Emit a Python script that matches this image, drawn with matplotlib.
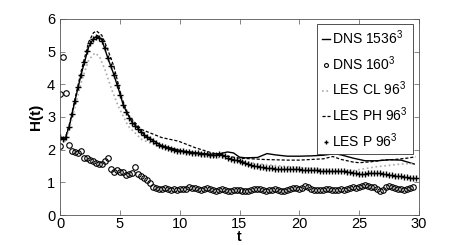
import numpy as np
import matplotlib
matplotlib.use("Agg")
import matplotlib.pyplot as plt

plt.rcParams['font.family'] = ['Liberation Sans', 'DejaVu Sans']
plt.rcParams['mathtext.fontset'] = 'custom'
plt.rcParams['mathtext.rm'] = 'Liberation Sans'
plt.rcParams['mathtext.it'] = 'Liberation Sans:italic'
plt.rcParams['mathtext.bf'] = 'Liberation Sans:bold'

# ---- data ----
labels = ["DNS 1536$^3$", "DNS 160$^3$", "LES CL 96$^3$", "LES PH 96$^3$", "LES P 96$^3$"]

t_dns1536 = [0, 0.4, 0.8, 1.25, 1.8, 2.4, 2.8, 3.15, 3.5, 4.0, 4.45, 4.9, 5.3, 6.0, 7.1, 8.5,
             10.2, 11.5, 12.5, 13.4, 14.0, 14.5, 15.0, 15.5, 16.5, 17.3, 18.0, 19.0, 20.0, 21.0,
             22.0, 23.0, 23.7, 24.5, 25.5, 26.5, 27.5, 28.5, 29.6]
h_dns1536 = [2.4, 2.3, 2.75, 3.5, 4.35, 5.15, 5.4, 5.49, 5.36, 4.8, 4.35, 3.84, 3.35, 2.85, 2.43, 2.12,
             1.96, 1.9, 1.86, 1.88, 1.93, 1.9, 1.77, 1.75, 1.76, 1.88, 1.84, 1.8, 1.8, 1.81,
             1.83, 1.88, 1.82, 1.74, 1.66, 1.66, 1.69, 1.68, 1.56]

t_lesph = [0, 0.4, 0.8, 1.25, 1.8, 2.4, 2.8, 3.06, 3.5, 4.0, 4.5, 5.15, 5.7, 6.8, 8.5, 9.9, 11.3,
           12.7, 14.0, 15.0, 16.0, 17.0, 18.0, 19.0, 20.0, 21.0, 22.0, 22.8, 23.5, 24.5, 25.0,
           26.0, 27.0, 28.0, 29.0, 29.7]
h_lesph = [2.35, 2.3, 2.8, 3.55, 4.45, 5.3, 5.58, 5.63, 5.5, 5.05, 4.55, 3.6, 3.05, 2.62, 2.37, 2.26, 2.06,
           1.9, 1.8, 1.74, 1.72, 1.7, 1.69, 1.68, 1.68, 1.7, 1.72, 1.79, 1.7, 1.62, 1.6,
           1.63, 1.68, 1.7, 1.74, 1.78]

t_lescl = [0, 0.4, 0.8, 1.25, 1.8, 2.4, 2.92, 3.3, 3.76, 4.32, 4.87, 5.7, 6.83, 8.5, 10.17, 12.1,
           13.5, 14.5, 15.5, 16.5, 17.5, 18.5, 19.5, 20.5, 21.5, 22.5, 23.5, 24.5, 25.5, 26.5,
           27.5, 28.5, 29.6]
h_lescl = [2.3, 2.25, 2.65, 3.3, 4.1, 4.75, 4.96, 4.85, 4.45, 3.84, 3.33, 2.72, 2.31, 2.06, 1.91, 1.79,
           1.75, 1.7, 1.62, 1.57, 1.53, 1.5, 1.47, 1.44, 1.4, 1.36, 1.34, 1.36, 1.42, 1.48,
           1.52, 1.56, 1.58]

t_dns160_start = [0.0, 0.0, 0.25, 0.5, 0.75]
h_dns160_start = [2.1, 3.69, 4.83, 3.72, 2.13]
h_dns160 = [1.95, 1.93, 1.91, 1.95, 1.73, 1.75, 1.68, 1.64, 1.60, 1.56, 1.57, 1.65, 1.74,
            1.40, 1.32, 1.38, 1.33, 1.31, 1.22, 1.27, 1.30, 1.48, 1.25, 1.20, 1.13, 1.08,
            0.98, 0.87, 0.84, 0.81, 0.79, 0.84, 0.80, 0.78, 0.79, 0.78, 0.80, 0.79, 0.81,
            0.85, 0.83, 0.82, 0.80, 0.78, 0.81, 0.82, 0.80, 0.77, 0.75, 0.77, 0.79, 0.76,
            0.74, 0.75, 0.77, 0.78, 0.76, 0.73, 0.72, 0.74, 0.76, 0.79, 0.81, 0.80, 0.77,
            0.75, 0.76, 0.78, 0.80, 0.78, 0.74, 0.73, 0.76, 0.79, 0.82, 0.83, 0.80, 0.84,
            0.88, 0.85, 0.80, 0.78, 0.76, 0.77, 0.78, 0.80, 0.79, 0.77, 0.76, 0.78, 0.79,
            0.77, 0.79, 0.82, 0.85, 0.83, 0.86, 0.88, 0.93, 0.90, 0.87, 0.85, 0.80, 0.74,
            0.77, 0.86, 0.88, 0.85, 0.82, 0.81, 0.80, 0.78, 0.80, 0.82, 0.86]
dt160 = 0.25
t160_first = 1.0

h_lesp = [2.38, 2.32, 2.40, 2.70, 3.10, 3.50, 3.92, 4.30, 4.68, 5.02, 5.25, 5.38, 5.44, 5.42,
          5.33, 5.10, 4.80, 4.55, 4.28, 3.98, 3.68, 3.38, 3.14, 2.97, 2.83, 2.72, 2.62, 2.53,
          2.45, 2.38, 2.32, 2.26, 2.20, 2.15, 2.11, 2.07, 2.04, 2.01, 1.99, 1.97, 1.96, 1.95,
          1.94, 1.92, 1.91, 1.90, 1.89, 1.88, 1.87, 1.86, 1.85, 1.84, 1.85, 1.86, 1.84, 1.80,
          1.76, 1.72, 1.69, 1.67, 1.64, 1.61, 1.58, 1.56, 1.54, 1.51, 1.49, 1.47, 1.46, 1.45,
          1.44, 1.43, 1.42, 1.41, 1.41, 1.42, 1.42, 1.41, 1.40, 1.40, 1.40, 1.39, 1.39, 1.38,
          1.38, 1.37, 1.37, 1.36, 1.36, 1.36, 1.35, 1.35, 1.36, 1.36, 1.35, 1.34, 1.33, 1.31,
          1.29, 1.28, 1.27, 1.27, 1.27, 1.28, 1.29, 1.30, 1.30, 1.28, 1.26, 1.24, 1.22, 1.21,
          1.20, 1.19, 1.18, 1.17, 1.16, 1.14, 1.13, 1.12]
dt_lesp = 0.25

xticks = [0, 5, 10, 15, 20, 25, 30]
yticks = [0, 1, 2, 3, 4, 5, 6]

# ---- build ----
t160 = np.concatenate([t_dns160_start, t160_first + dt160 * np.arange(len(h_dns160))])
v160 = np.concatenate([h_dns160_start, h_dns160])
t_lesp = dt_lesp * np.arange(len(h_lesp))

fig = plt.figure(figsize=(4.63, 2.45), dpi=100)
ax = fig.add_axes([60/463, 1 - 215/245, (419-60)/463, (215-19)/245])

ax.plot(t_dns1536, h_dns1536, '-', color='black', lw=1.0, label=labels[0])
ax.plot(t160, v160, 'o', mfc='none', mec='black', ms=4.0, mew=0.8, ls='none', label=labels[1])
ax.plot(t_lescl, h_lescl, ':', color='#aaaaaa', lw=1.2, label=labels[2])
ax.plot(t_lesph, h_lesph, '--', color='black', lw=0.9, dashes=(2.5, 1.5), label=labels[3])
ax.plot(t_lesp, h_lesp, '+', color='black', ms=5, mew=1.0, ls='none', label=labels[4])

ax.set_xlim(0, 30)
ax.set_ylim(0, 6)
ax.set_xticks(xticks)
ax.set_yticks(yticks)
ax.tick_params(direction='in', top=True, right=True, length=3.5, width=0.5,
               labelsize=10.5, pad=1.5, color='#555555')
ax.tick_params(axis='y', pad=3.5)
for s in ax.spines.values():
    s.set_linewidth(0.6)
    s.set_color('#555555')
ax.set_xlabel('t', fontweight='bold', fontsize=10, labelpad=-1)
ax.set_ylabel('H(t)', fontweight='bold', fontsize=11, labelpad=3)

leg = ax.legend(loc='upper right', bbox_to_anchor=(0.983, 0.975), borderaxespad=0,
                fontsize=10, handlelength=0.55, handletextpad=0.2, labelspacing=0.5,
                borderpad=0.35, fancybox=False, framealpha=1, markerscale=0.7)
leg.get_frame().set_edgecolor('#333333')
leg.get_frame().set_linewidth(0.6)

fig.savefig('out.png', dpi=100)
